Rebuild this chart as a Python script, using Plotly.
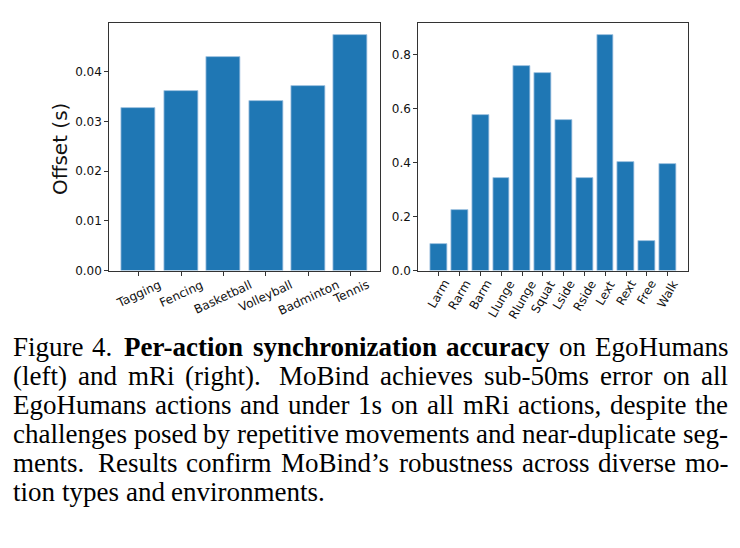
import plotly.graph_objects as go

# ---- data ----
ego_actions = ["Tagging", "Fencing", "Basketball", "Volleyball", "Badminton", "Tennis"]
ego_offsets = [0.0326, 0.0362, 0.0429, 0.0342, 0.0371, 0.0474]

mri_actions = ["Larm", "Rarm", "Barm", "Llunge", "Rlunge", "Squat", "Lside",
               "Rside", "Lext", "Rext", "Free", "Walk"]
mri_offsets = [0.097, 0.225, 0.576, 0.341, 0.757, 0.730, 0.559,
               0.341, 0.871, 0.401, 0.111, 0.394]

left_ticks = [0.0, 0.01, 0.02, 0.03, 0.04]
right_ticks = [0.0, 0.2, 0.4, 0.6, 0.8]

# caption lines: list of (word, bold)
caption_lines = [
    [("Figure", 0), ("4.", 0), ("Per-action", 1), ("synchronization", 1), ("accuracy", 1),
     ("on", 0), ("EgoHumans", 0)],
    [("(left)", 0), ("and", 0), ("mRi", 0), ("(right).", 0), ("MoBind", 0), ("achieves", 0),
     ("sub-50ms", 0), ("error", 0), ("on", 0), ("all", 0)],
    [("EgoHumans", 0), ("actions", 0), ("and", 0), ("under", 0), ("1s", 0), ("on", 0),
     ("all", 0), ("mRi", 0), ("actions,", 0), ("despite", 0), ("the", 0)],
    [("challenges", 0), ("posed", 0), ("by", 0), ("repetitive", 0), ("movements", 0),
     ("and", 0), ("near-duplicate", 0), ("seg-", 0)],
    [("ments.", 0), ("Results", 0), ("confirm", 0), ("MoBind\u2019s", 0), ("robustness", 0),
     ("across", 0), ("diverse", 0), ("mo-", 0)],
    [("tion", 0), ("types", 0), ("and", 0), ("environments.", 0)],
]

# Times / Liberation Serif advance widths (1/1000 em) used for justifying the caption
REG = {" ": 250, "(": 333, ")": 333, ",": 250, "-": 333, ".": 250, "\u2019": 333,
       "0": 500, "1": 500, "4": 500, "5": 500,
       "B": 667, "E": 611, "F": 556, "H": 722, "M": 889, "R": 667, "P": 556,
       "a": 444, "b": 500, "c": 444, "d": 500, "e": 444, "f": 333, "g": 500, "h": 500,
       "i": 278, "l": 278, "m": 778, "n": 500, "o": 500, "p": 500, "r": 333, "s": 389,
       "t": 278, "u": 500, "v": 500, "y": 500, "z": 444}
BLD = {"-": 333, "P": 611, "a": 500, "c": 444, "e": 444, "h": 556, "i": 278, "n": 556,
       "o": 500, "r": 444, "s": 389, "t": 333, "u": 556, "y": 500, "z": 444}

W, H = 740, 548
BLUE = "#1f77b4"
TICK_FONT = dict(family="DejaVu Sans", size=12, color="#111")
CAP_SIZE = 27
CAP_LEFT, CAP_RIGHT = 12, 727

fig = go.Figure()
fig.add_trace(go.Bar(x=list(range(len(ego_actions))), y=ego_offsets, width=0.8,
                     marker=dict(color=BLUE, line=dict(color="#a9c8e4", width=0.8)),
                     xaxis="x", yaxis="y", showlegend=False))
fig.add_trace(go.Bar(x=list(range(len(mri_actions))), y=mri_offsets, width=0.8,
                     marker=dict(color=BLUE, line=dict(color="#a9c8e4", width=0.8)),
                     xaxis="x2", yaxis="y2", showlegend=False))

ax_common = dict(showline=True, linecolor="#333", linewidth=1, mirror=True,
                 ticks="outside", ticklen=4, tickwidth=1, tickcolor="#333",
                 showgrid=False, zeroline=False, tickfont=TICK_FONT)

ydom = [1 - 274 / H, 1 - 23.3 / H]
fig.update_layout(
    width=W, height=H, margin=dict(l=0, r=0, t=0, b=0),
    paper_bgcolor="white", plot_bgcolor="white",
    bargap=0,
    xaxis=dict(domain=[109.3 / W, 380 / W], range=[-0.69, len(ego_actions) - 1 + 0.69],
               tickvals=list(range(len(ego_actions))), showticklabels=False, **ax_common),
    yaxis=dict(domain=ydom, range=[0, 0.0498], tickvals=left_ticks, tickformat=".2f",
               **ax_common),
    xaxis2=dict(domain=[418.3 / W, 688.3 / W], range=[-0.99, len(mri_actions) - 1 + 0.99],
                tickvals=list(range(len(mri_actions))), showticklabels=False,
                anchor="y2", **ax_common),
    yaxis2=dict(domain=ydom, range=[0, 0.917], tickvals=right_ticks, tickformat=".1f",
                anchor="x2", **ax_common),
)

annotations = []
# rotated category labels, centred under each tick (matplotlib-style)
for i, name in enumerate(ego_actions):
    annotations.append(dict(x=i, y=ydom[0], xref="x", yref="paper", text=name,
                            textangle=-25, xanchor="center", yanchor="top",
                            yshift=-6, showarrow=False, font=TICK_FONT, borderpad=0))
for i, name in enumerate(mri_actions):
    annotations.append(dict(x=i, y=ydom[0], xref="x2", yref="paper", text=name,
                            textangle=-60, xanchor="center", yanchor="top",
                            yshift=-6, showarrow=False, font=TICK_FONT, borderpad=0))
# y-axis title
annotations.append(dict(x=60 / W, y=1 - 151 / H, xref="paper", yref="paper",
                        text="Offset (s)", textangle=-90, showarrow=False,
                        xanchor="center", yanchor="middle",
                        font=dict(family="DejaVu Sans", size=20, color="#111")))


def word_width(word, bold):
    table = BLD if bold else REG
    return sum(table.get(ch, 500) for ch in word) / 1000.0 * CAP_SIZE


# justified caption, one annotation per word (wider gap after a sentence end)
for k, words in enumerate(caption_lines):
    widths = [word_width(w, b) for w, b in words]
    weights = [1.6 if w.endswith(".") and w != "4." else (1.3 if w == "4." else 1.0)
               for w, _ in words[:-1]]
    last = k == len(caption_lines) - 1
    if last:
        unit = 0.25 * CAP_SIZE
    else:
        unit = (CAP_RIGHT - CAP_LEFT - sum(widths)) / sum(weights)
    x = CAP_LEFT
    ypix = 351 + 29.4 * k
    for j, ((w, b), wd) in enumerate(zip(words, widths)):
        txt = "<b>%s</b>" % w if b else w
        annotations.append(dict(x=x / W, y=1 - ypix / H, xref="paper", yref="paper",
                                text=txt, showarrow=False, xanchor="left", yanchor="middle",
                                borderpad=0,
                                font=dict(family="Liberation Serif", size=CAP_SIZE,
                                          color="#000")))
        if j < len(weights):
            x += wd + unit * weights[j]
fig.update_layout(annotations=annotations)

fig.write_html("out.html")
